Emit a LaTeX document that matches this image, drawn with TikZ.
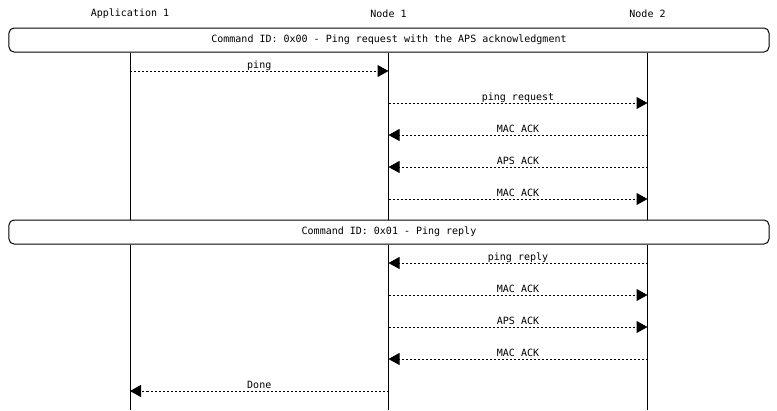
\documentclass[tikz,border=0pt]{standalone}
\usepackage{fontspec}
\setmainfont{DejaVu Sans Mono}
\usetikzlibrary{arrows.meta}

\begin{document}
\begin{tikzpicture}[x=1bp, y=-1bp, font=\fontsize{10bp}{12bp}\selectfont,
        msg/.style={line width=1bp, dash pattern=on 2bp off 2bp, -{Triangle[length=11bp, width=12bp]}},
        cmdbox/.style={draw, line width=1bp, rounded corners=5bp, minimum width=760bp, minimum height=24bp, inner sep=0pt},
        life/.style={line width=1bp}]

            % the frame
            \useasboundingbox (0,0) rectangle (777,410);

            % the heads
            \node (app) at (130,14) {Application 1};
            \node (nodeA) at (388.5,14) {Node 1};
            \node (nodeB) at (647.5,14) {Node 2};

            % the commands
            \node[cmdbox] (cmdA) at (389,40) {Command ID: 0x00 - Ping request with the APS acknowledgment};
            \node[cmdbox] (cmdB) at (389,232) {Command ID: 0x01 - Ping reply};
            \coordinate (bottom) at (0,410);

            % the lifelines
            \foreach \p in {app,nodeA,nodeB} {
                \draw[life] (\p |- cmdA.south) -- (\p |- cmdB.north);
                \draw[life] (\p |- cmdB.south) -- (\p |- bottom);
            }

            % the messages
            \foreach \y/\from/\to/\txt in {71/app/nodeA/ping, 103/nodeA/nodeB/ping request,
                    135/nodeB/nodeA/MAC ACK, 167/nodeB/nodeA/APS ACK, 199/nodeA/nodeB/MAC ACK,
                    263/nodeB/nodeA/ping reply, 295/nodeA/nodeB/MAC ACK, 327/nodeA/nodeB/APS ACK,
                    359/nodeB/nodeA/MAC ACK, 391/nodeA/app/Done} {
                \coordinate (msg) at (0,\y);
                \draw[msg] (\from |- msg) -- node[anchor=base, yshift=3bp] {\txt} (\to |- msg);
            }

        \end{tikzpicture}
\end{document}
